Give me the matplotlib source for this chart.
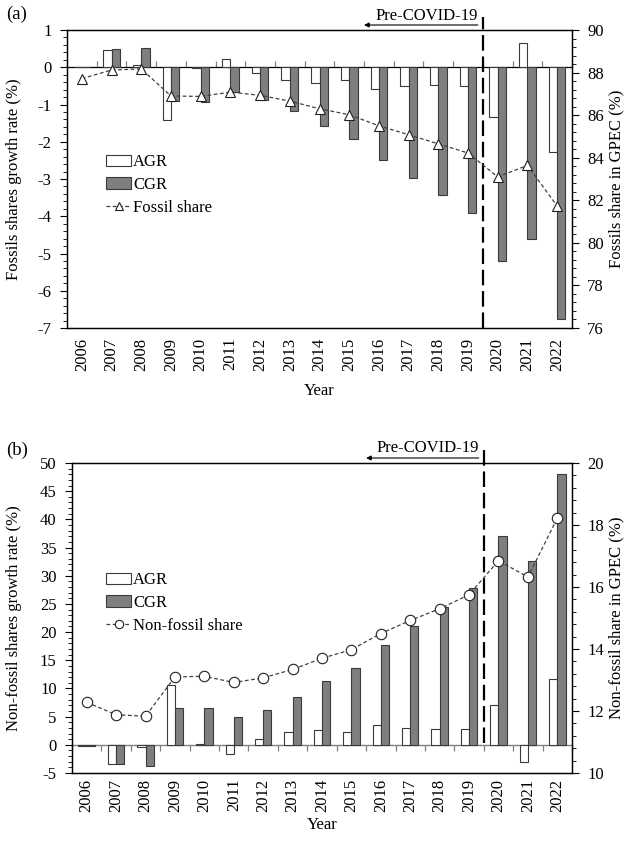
import numpy as np
import matplotlib
matplotlib.use("Agg")
import matplotlib.pyplot as plt
from matplotlib.lines import Line2D
from matplotlib.patches import Patch

plt.rcParams.update({
    "font.family": ["Liberation Serif", "DejaVu Serif"],
    "font.size": 12,
    "axes.linewidth": 0.9,
})

years = list(range(2006, 2023))

fossil_agr = [0.02, 0.47, 0.06, -1.41, -0.02, 0.22, -0.16, -0.34, -0.41, -0.34,
              -0.58, -0.49, -0.47, -0.51, -1.34, 0.64, -2.27]
fossil_cgr = [0.02, 0.49, 0.53, -0.91, -0.93, -0.67, -0.88, -1.18, -1.59, -1.92,
              -2.48, -2.96, -3.42, -3.91, -5.19, -4.60, -6.76]
fossil_share = [87.72, 88.12, 88.17, 86.90, 86.88, 87.08, 86.93, 86.66, 86.30, 86.02,
                85.50, 85.08, 84.65, 84.22, 83.10, 83.64, 81.73]

nonfossil_agr = [-0.15, -3.37, -0.30, 10.6, 0.2, -1.6, 1.07, 2.2, 2.66, 2.2,
                 3.5, 2.96, 2.77, 2.77, 7.1, -3.1, 11.6]
nonfossil_cgr = [-0.15, -3.37, -3.70, 6.5, 6.6, 5.0, 6.2, 8.46, 11.36, 13.7,
                 17.7, 21.05, 24.4, 27.9, 37.0, 32.6, 48.0]
nonfossil_share = [12.28, 11.88, 11.83, 13.10, 13.12, 12.92, 13.07, 13.34, 13.70, 13.98,
                   14.50, 14.92, 15.30, 15.75, 16.85, 16.32, 18.22]

W, H = 624, 841
BAR_W = 0.28
CGR_COLOR = "#7f7f7f"
EDGE = "#3a3a3a"
FS = 12


def panel(rect, agr, cgr, share, ylim, ystep, yminor, y2lim, marker, share_label,
          ylabel, y2label, tag, tag_y, legend_y, ylab_x, xpad, xlabelpad):
    l, r, t, b = rect
    ax = fig.add_axes([l / W, 1 - b / H, (r - l) / W, (b - t) / H])
    x = np.arange(len(years))
    ax.bar(x - BAR_W / 2, agr, BAR_W, color="white", edgecolor=EDGE, lw=0.8, zorder=2)
    ax.bar(x + BAR_W / 2, cgr, BAR_W, color=CGR_COLOR, edgecolor=EDGE, lw=0.8, zorder=2)
    ax.set_xlim(-0.5, len(years) - 0.5)
    ax.set_ylim(*ylim)
    ax.set_yticks(np.arange(ylim[0], ylim[1] + ystep / 2, ystep))
    ax.set_yticks(np.arange(ylim[0], ylim[1] + 1e-9, yminor), minor=True)
    ax.set_yticklabels([f"{v:g}" for v in ax.get_yticks()])
    ax.tick_params(axis="y", which="major", length=5, direction="out", pad=6, labelsize=FS)
    ax.tick_params(axis="y", which="minor", length=3, direction="out")
    ax.set_xticks(x)
    ax.set_xticklabels([str(y) for y in years], rotation=90)
    ax.tick_params(axis="x", length=0, pad=xpad, labelsize=FS)
    ax.set_xlabel("Year", fontsize=FS, labelpad=xlabelpad)
    ax.set_ylabel(ylabel, fontsize=FS)
    ax.yaxis.set_label_coords(ylab_x, 0.5)

    # category axis crossing at zero, ticks between categories
    zero_frac = (0 - ylim[0]) / (ylim[1] - ylim[0])
    sec = ax.secondary_xaxis(zero_frac)
    sec.set_xticks(np.arange(-0.5, len(years), 1.0))
    sec.set_xticklabels([])
    sec.tick_params(length=4, direction="out", color="#808080", width=0.9)
    sec.spines["bottom"].set_color("#808080")
    sec.spines["bottom"].set_linewidth(1.0)

    ax2 = ax.twinx()
    ax2.set_ylim(*y2lim)
    ax2.set_yticks(np.arange(y2lim[0], y2lim[1] + 1, 2))
    ax2.set_yticks(np.arange(y2lim[0], y2lim[1] + 1e-9, 0.4), minor=True)
    ax2.tick_params(axis="y", which="major", length=5, direction="out", pad=6, labelsize=FS)
    ax2.tick_params(axis="y", which="minor", length=3, direction="out")
    ax2.plot(x, share, ls=(0, (3, 2)), lw=0.9, color="#404040", marker=marker,
             markersize=6.5 if marker == "^" else 7.5, markerfacecolor="white",
             markeredgecolor="#202020", markeredgewidth=0.8, zorder=3)
    ax2.set_ylabel(y2label, fontsize=FS)
    ax2.yaxis.set_label_coords(1.072, 0.5)

    # pre-COVID-19 divider and arrow
    span = ylim[1] - ylim[0]
    px = span / (b - t)
    y_low = ylim[0] if tag == "(a)" else 0.4
    ax.plot([13.5, 13.5], [y_low, ylim[1] + 13 * px], color="black", lw=1.6,
            ls=(0, (7, 2.6)), clip_on=False, zorder=5)
    ax.annotate("", xy=(9.5, ylim[1] + 5 * px), xytext=(13.33, ylim[1] + 5 * px),
                arrowprops=dict(arrowstyle="-|>", lw=0.8, color="black",
                                mutation_scale=7, shrinkA=0, shrinkB=0),
                annotation_clip=False)
    ax.text(13.33, ylim[1] + 6.5 * px, "Pre-COVID-19", ha="right", va="bottom",
            fontsize=FS)

    handles = [
        Patch(facecolor="white", edgecolor=EDGE, lw=0.8),
        Patch(facecolor=CGR_COLOR, edgecolor=EDGE, lw=0.8),
        Line2D([], [], ls=(0, (3, 2)), lw=0.9, color="#404040", marker=marker,
               markersize=6, markerfacecolor="white", markeredgecolor="#202020",
               markeredgewidth=0.8),
    ]
    fig.legend(handles, ["AGR", "CGR", share_label], loc="upper left",
               bbox_to_anchor=(98 / W, 1 - legend_y / H), frameon=False,
               fontsize=FS, handlelength=1.5, handleheight=0.7,
               handletextpad=0.1, labelspacing=0.4, borderpad=0)

    fig.text(6 / W, 1 - tag_y / H, tag, fontsize=13.5, va="center", ha="left")
    return ax, ax2


fig = plt.figure(figsize=(W / 100, H / 100), dpi=100)

panel((67, 572, 30, 328), fossil_agr, fossil_cgr, fossil_share,
      (-7, 1), 1, 0.2, (76, 90), "^", "Fossil share",
      "Fossils shares growth rate (%)", "Fossils share in GPEC (%)",
      "(a)", 14, 146, -0.09, 7, 9)

panel((72, 572, 463, 773), nonfossil_agr, nonfossil_cgr, nonfossil_share,
      (-5, 50), 5, 1, (10, 20), "o", "Non-fossil share",
      "Non-fossil shares growth rate (%)", "Non-fossil share in GPEC (%)",
      "(b)", 450, 564, -0.1, 4, 4)

fig.savefig("out.png", dpi=100)
